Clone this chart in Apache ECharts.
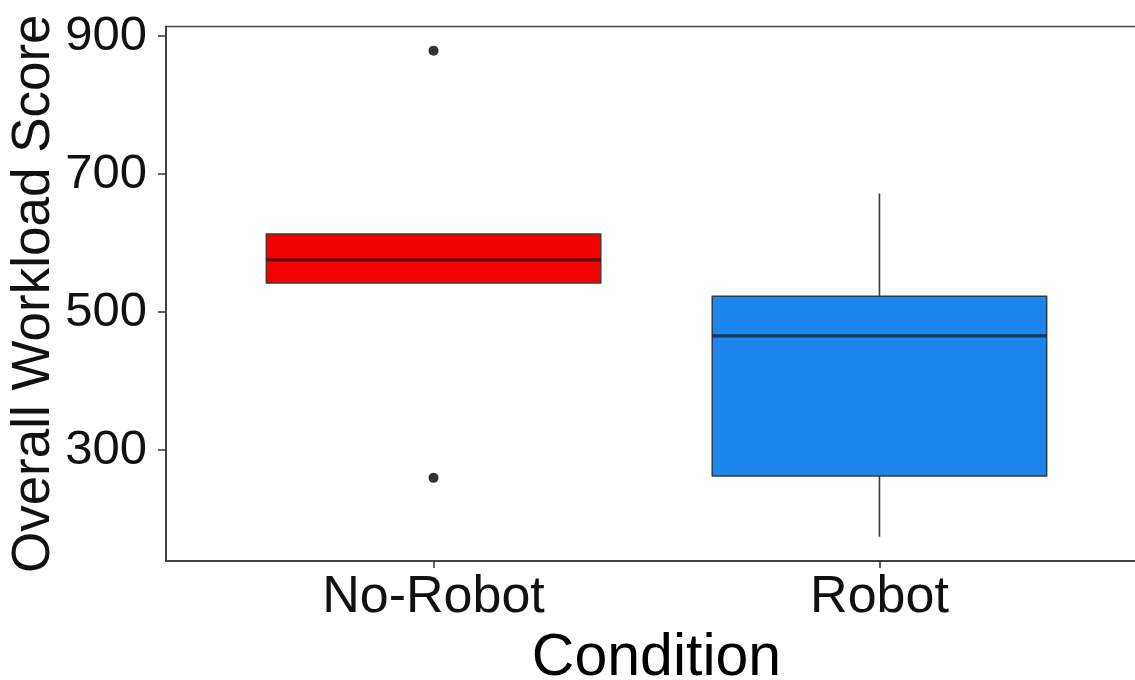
<!DOCTYPE html>
<html>
<head>
<meta charset="utf-8">
<script src="https://cdn.jsdelivr.net/npm/echarts@6/dist/echarts.min.js"></script>
<style>
html,body{margin:0;padding:0;background:#fff;}
#chart{width:1135px;height:680px;}
</style>
</head>
<body>
<div id="chart"></div>
<script>
// Data
const categories = ['No-Robot', 'Robot'];
const positions = [1, 2];
const lowerWhisker = [542.4, 174.7];
const q1 = [542.4, 262.8];
const median = [575.7, 465.8];
const q3 = [613.3, 523];
const upperWhisker = [613.3, 672];
const outlierCategory = [1, 1];
const outlierValue = [879, 260];
const yTicks = [300, 500, 700, 900];
const fills = ['#f30000', '#1c86ee'];

const boxData = positions.map((p, i) => [p, lowerWhisker[i], q1[i], median[i], q3[i], upperWhisker[i]]);
const outlierData = outlierCategory.map((c, i) => [c, outlierValue[i]]);

const chart = echarts.init(document.getElementById('chart'));
const font = '"Liberation Sans", Arial, sans-serif';

chart.setOption({
  animation: false,
  backgroundColor: '#fff',
  grid: {
    left: 166, top: 26.5, width: 981, height: 534.5,
    containLabel: false, outerBoundsMode: 'none',
    show: true, borderColor: '#444', borderWidth: 1.5, backgroundColor: 'transparent'
  },
  xAxis: {
    type: 'value', min: 0.4, max: 2.6,
    name: 'Condition', nameLocation: 'middle', nameGap: 68, nameMoveOverlap: false,
    nameTextStyle: { fontSize: 59, fontFamily: font, color: '#000' },
    axisLine: { show: true, onZero: false, lineStyle: { color: '#333', width: 1.5 } },
    axisTick: { show: true, length: 7, customValues: positions, lineStyle: { color: '#333', width: 1.5 } },
    axisLabel: {
      customValues: positions, fontSize: 52, fontFamily: font, color: '#111', margin: 11,
      formatter: v => categories[Math.round(v) - 1] || ''
    },
    splitLine: { show: false }
  },
  yAxis: {
    type: 'value', min: 139.5, max: 914,
    name: 'Overall Workload Score', nameLocation: 'middle', nameGap: 105, nameRotate: 90, nameMoveOverlap: false,
    nameTextStyle: { fontSize: 53, fontFamily: font, color: '#111' },
    axisLine: { show: true, onZero: false, lineStyle: { color: '#333', width: 1.5 } },
    axisTick: { show: true, length: 8, customValues: yTicks, lineStyle: { color: '#333', width: 1.5 } },
    axisLabel: { customValues: yTicks, fontSize: 49, fontFamily: font, color: '#111', margin: 19 },
    splitLine: { show: false }
  },
  series: [
    {
      type: 'custom',
      data: boxData,
      encode: { x: 0, y: [1, 2, 3, 4, 5] },
      renderItem: function (params, api) {
        const x = api.value(0);
        const w = api.size([0.75, 0])[0];
        const pLow = api.coord([x, api.value(1)]);
        const pQ1 = api.coord([x, api.value(2)]);
        const pMed = api.coord([x, api.value(3)]);
        const pQ3 = api.coord([x, api.value(4)]);
        const pHigh = api.coord([x, api.value(5)]);
        const cx = pQ1[0];
        const lineStyle = { stroke: '#3a3a3a', lineWidth: 1.6 };
        return {
          type: 'group',
          children: [
            { type: 'line', shape: { x1: cx, y1: pLow[1], x2: cx, y2: pQ1[1] }, style: lineStyle },
            { type: 'line', shape: { x1: cx, y1: pQ3[1], x2: cx, y2: pHigh[1] }, style: lineStyle },
            { type: 'rect', shape: { x: cx - w / 2, y: pQ3[1], width: w, height: pQ1[1] - pQ3[1] },
              style: { fill: fills[params.dataIndex], stroke: '#3a3a3a', lineWidth: 1.5 } },
            { type: 'line', shape: { x1: cx - w / 2, y1: pMed[1], x2: cx + w / 2, y2: pMed[1] },
              style: { stroke: 'rgba(25,25,25,0.72)', lineWidth: 3.2 } }
          ]
        };
      }
    },
    {
      type: 'scatter',
      data: outlierData,
      symbol: 'circle',
      symbolSize: 10,
      itemStyle: { color: '#333', opacity: 1 }
    }
  ]
});
</script>
</body>
</html>
